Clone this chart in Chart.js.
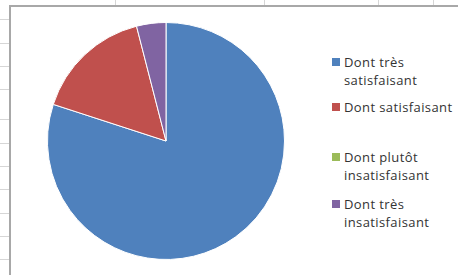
<!DOCTYPE html>
<html>
<head>
<meta charset="utf-8">
<script src="https://cdn.jsdelivr.net/npm/chart.js@4/dist/chart.umd.min.js"></script>
<style>
  body { margin: 0; width: 458px; height: 275px; overflow: hidden; position: relative; background: #fff; font-family: "Open Sans", sans-serif; }
  .gl { position: absolute; background: #d6d6d6; }
  #box { position: absolute; left: 9px; top: 5px; width: 470px; height: 290px; background: #fff; border-left: 2px solid #a8a8a8; border-top: 2px solid #a8a8a8; }
  #wrap { position: absolute; left: 47px; top: 22px; width: 238px; height: 238px; }
  #legend { position: absolute; left: 332px; top: 0; }
  .item { position: absolute; left: 0; width: 126px; font-size: 13px; letter-spacing: 0.4px; line-height: 18px; color: #333; padding-left: 12px; box-sizing: border-box; }
  .item span.sw { position: absolute; left: 0; top: 5px; width: 8px; height: 8px; }
</style>
</head>
<body>
<div id="grid"></div>
<div id="box"></div>
<div id="wrap"><canvas id="pie"></canvas></div>
<div id="legend"></div>
<script>
const categories = ['Dont très satisfaisant', 'Dont satisfaisant', 'Dont plutôt insatisfaisant', 'Dont très insatisfaisant'];
const values = [80, 16, 0, 4];
const colors = ['#4F81BD', '#C0504D', '#9BBB59', '#8064A2'];

// spreadsheet cell lines behind the chart
const grid = document.getElementById('grid');
[115, 264, 378, 433].forEach(x => {
  const d = document.createElement('div');
  d.className = 'gl';
  d.style.cssText = `left:${x}px;top:0;width:1px;height:6px`;
  grid.appendChild(d);
});
[19, 43, 66, 89, 119, 143, 166, 189, 213, 236, 259].forEach(y => {
  const d = document.createElement('div');
  d.className = 'gl';
  d.style.cssText = `left:0;top:${y}px;width:10px;height:1px`;
  grid.appendChild(d);
});

const chart = new Chart(document.getElementById('pie'), {
  type: 'pie',
  data: {
    labels: categories,
    datasets: [{ data: values, backgroundColor: colors, borderColor: '#ffffff', borderWidth: 1 }]
  },
  options: {
    responsive: true,
    maintainAspectRatio: false,
    animation: false,
    layout: { padding: 0 },
    plugins: { legend: { display: false }, tooltip: { enabled: false } }
  }
});

// legend built from the chart's own items
const legend = document.getElementById('legend');
const tops = [53, 98, 148, 195];
const items = chart.options.plugins.legend.labels.generateLabels(chart);
items.forEach((it, i) => {
  const el = document.createElement('div');
  el.className = 'item';
  el.style.top = tops[i] + 'px';
  el.innerHTML = `<span class="sw" style="background:${it.fillStyle}"></span>`;
  el.appendChild(document.createTextNode(it.text));
  legend.appendChild(el);
});
</script>
</body>
</html>
